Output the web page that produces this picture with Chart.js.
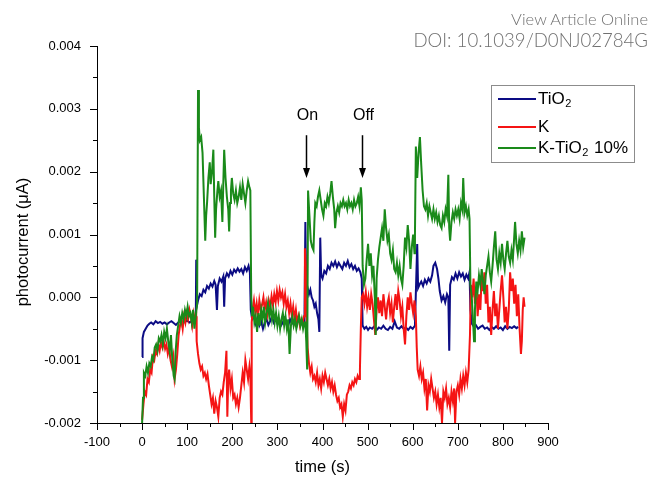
<!DOCTYPE html>
<html>
<head>
<meta charset="utf-8">
<script src="https://cdn.jsdelivr.net/npm/chart.js@4.4.1/dist/chart.umd.min.js"></script>
<style>
  html, body { margin: 0; padding: 0; background: #fff; }
  #wrap { position: relative; width: 650px; height: 477px; }
  .hdr { position: absolute; right: 2px; color: #707070; font-family: Lato, "Open Sans", sans-serif; font-weight: 300; white-space: nowrap; }
  #view { top: 9px; font-size: 16.5px; }
  #doi { top: 29px; font-size: 18.6px; }
</style>
</head>
<body>
<div id="wrap">
  <canvas id="photo" width="650" height="477"></canvas>
  <div class="hdr" id="view">View Article Online</div>
  <div class="hdr" id="doi">DOI: 10.1039/D0NJ02784G</div>
</div>
<script>
// [time (s), photocurrent in units of 0.001 µA]
const tio2 = [
  [0,-0.95],[1,-0.65],[4,-0.55],[8,-0.5],[12,-0.45],[16,-0.42],[20,-0.4],[25,-0.43],[30,-0.38],[35,-0.41],
  [40,-0.39],[45,-0.42],[50,-0.4],[55,-0.43],[60,-0.4],[65,-0.38],[70,-0.41],[75,-0.44],[80,-0.4],[85,-0.38],
  [90,-0.41],[95,-0.39],[100,-0.37],[105,-0.4],[110,-0.38],[115,-0.36],[119,-0.38],[120,0.6],[121,-0.15],[124,-0.05],
  [128,0.05],[132,0.02],[136,0.12],[140,0.08],[144,0.18],[148,0.14],[152,0.22],[156,0.17],[160,0.26],[163,0.2],
  [166,-0.2],[168,0.18],[172,0.3],[176,0.25],[180,0.33],[182,-0.15],[184,0.3],[188,0.38],[192,0.33],[196,0.42],
  [200,0.36],[204,0.44],[208,0.4],[212,0.46],[216,0.41],[220,0.45],[224,0.38],[228,0.48],[232,0.42],[236,0.5],
  [239,0.4],[241,-0.2],[244,-0.35],[248,-0.3],[252,-0.42],[256,-0.33],[260,-0.45],[264,-0.38],[268,-0.5],[272,-0.4],
  [276,-0.35],[280,-0.44],[284,-0.38],[288,-0.3],[292,-0.4],[296,-0.34],[300,-0.42],[304,-0.36],[308,-0.45],[312,-0.4],
  [316,-0.33],[320,-0.38],[324,-0.45],[328,-0.35],[332,-0.42],[336,-0.38],[340,-0.32],[344,-0.4],[348,-0.35],[352,-0.43],
  [356,-0.38],[360,-0.4],[362,1.2],[364,0.1],[367,0.15],[370,0.05],[373,0.12],[376,0.0],[379,-0.05],[382,-0.15],
  [385,-0.1],[388,-0.25],[391,-0.35],[393,-0.55],[395,0.95],[397,0.35],[400,0.3],[404,0.42],[408,0.38],[412,0.5],
  [416,0.45],[420,0.55],[424,0.5],[428,0.57],[432,0.48],[436,0.55],[440,0.5],[444,0.45],[448,0.55],[452,0.5],
  [456,0.58],[460,0.48],[464,0.53],[468,0.45],[472,0.5],[476,0.42],[480,0.46],[484,0.4],[487,0.3],[489,-0.45],
  [493,-0.5],[497,-0.47],[501,-0.52],[505,-0.48],[510,-0.5],[515,-0.46],[520,-0.52],[525,-0.48],[530,-0.5],[535,-0.45],
  [540,-0.5],[545,-0.52],[550,-0.47],[555,-0.5],[560,-0.38],[565,-0.48],[570,-0.5],[575,-0.46],[580,-0.5],[585,-0.48],
  [590,-0.52],[595,-0.47],[600,-0.5],[605,-0.45],[610,0.85],[612,0.15],[615,0.2],[619,0.25],[623,0.18],[627,0.28],
  [631,0.22],[635,0.3],[639,0.25],[643,0.35],[646,0.5],[650,0.55],[654,0.45],[657,0.3],[660,0.1],[664,-0.05],
  [668,0.02],[672,-0.08],[676,0.05],[679,0.0],[681,-0.85],[683,0.2],[687,0.32],[691,0.28],[695,0.38],[699,0.3],
  [703,0.4],[707,0.33],[711,0.38],[715,0.28],[719,0.36],[723,0.3],[726,0.4],[728,-0.2],[731,-0.42],[735,-0.46],
  [740,-0.44],[745,-0.5],[750,-0.47],[755,-0.45],[760,-0.5],[765,-0.48],[770,-0.52],[775,-0.47],[780,-0.5],[785,-0.46],
  [790,-0.5],[795,-0.48],[800,-0.52],[805,-0.46],[810,-0.5],[815,-0.47],[820,-0.49],[825,-0.46],[830,-0.49],[834,-0.47]
];

const kOnly = [
  [0,-1.95],[3,-1.7],[6,-1.5],[9,-1.55],[12,-1.3],[15,-1.35],[18,-1.15],[21,-1.2],[24,-0.95],[27,-1.0],
  [30,-0.85],[33,-0.9],[36,-0.75],[39,-0.85],[42,-0.72],[45,-0.8],[48,-0.7],[51,-0.82],[54,-0.75],[57,-0.9],
  [60,-0.8],[63,-1.0],[66,-1.1],[69,-0.95],[72,-1.3],[75,-1.15],[78,-0.9],[81,-0.6],[84,-0.45],[87,-0.35],
  [90,-0.5],[93,-0.3],[96,-0.4],[99,-0.25],[102,-0.35],[105,-0.2],[108,-0.3],[111,-0.45],[114,-0.25],[117,-0.35],
  [120,-0.3],[121,-0.7],[124,-0.9],[127,-1.05],[130,-1.15],[133,-1.1],[136,-1.25],[139,-1.2],[142,-1.3],[145,-1.22],
  [148,-1.4],[151,-1.55],[154,-1.7],[157,-1.6],[160,-1.85],[163,-1.65],[166,-1.75],[169,-1.9],[172,-1.6],[175,-1.5],
  [178,-1.55],[181,-1.35],[184,-1.2],[187,-0.85],[189,-1.9],[191,-1.3],[193,-1.15],[196,-1.45],[199,-1.3],[202,-1.6],
  [205,-1.55],[208,-1.7],[211,-1.6],[214,-1.75],[217,-1.6],[220,-1.4],[223,-1.2],[226,-1.35],[229,-1.0],[232,-1.15],
  [235,-1.3],[238,-1.1],[240,-1.25],[242,-2.0],[243,-0.4],[245,-0.2],[248,-0.05],[251,-0.25],[254,-0.1],[257,-0.3],
  [260,-0.05],[263,-0.2],[266,-0.12],[269,0.0],[272,-0.2],[275,-0.08],[278,-0.25],[281,-0.05],[284,-0.15],[287,0.02],
  [290,-0.12],[293,0.05],[296,-0.08],[299,0.1],[302,-0.05],[305,0.12],[308,0.0],[311,0.08],[314,-0.1],[317,0.05],
  [320,-0.15],[323,-0.05],[326,-0.25],[329,-0.1],[332,-0.3],[335,-0.15],[338,-0.35],[341,-0.2],[344,-0.4],[347,-0.3],
  [350,-0.45],[353,-0.35],[356,-0.4],[359,-0.3],[361,0.78],[363,0.5],[365,-0.4],[367,-0.8],[370,-1.05],[373,-1.2],
  [376,-1.1],[379,-1.3],[382,-1.25],[385,-1.35],[388,-1.2],[391,-1.4],[394,-1.3],[397,-1.45],[400,-1.25],[403,-1.35],
  [406,-1.2],[409,-1.3],[412,-1.4],[415,-1.3],[418,-1.45],[421,-1.35],[424,-1.5],[427,-1.4],[430,-1.55],[433,-1.65],
  [436,-1.6],[439,-1.75],[442,-1.7],[445,-1.9],[448,-1.7],[451,-1.8],[454,-1.55],[457,-1.5],[460,-1.4],[463,-1.45],
  [466,-1.35],[469,-1.4],[472,-1.3],[475,-1.35],[478,-1.25],[481,-1.3],[483,-1.15],[485,-0.5],[487,0.0],[490,0.05],
  [493,-0.1],[496,0.08],[499,-0.15],[502,0.0],[505,-0.2],[508,0.05],[511,-0.1],[514,-0.35],[517,-0.6],[520,-0.2],
  [523,0.0],[526,-0.25],[529,-0.05],[532,-0.3],[535,0.05],[538,-0.15],[541,-0.35],[544,-0.1],[547,0.0],[550,-0.25],
  [553,-0.1],[556,-0.4],[559,-0.15],[562,0.05],[565,-0.2],[568,0.1],[571,-0.05],[574,-0.3],[577,-0.15],[580,-0.5],
  [583,-0.75],[586,-0.3],[589,0.0],[592,-0.2],[595,0.08],[598,-0.1],[601,-0.25],[604,-0.05],[607,-0.3],[609,-0.8],
  [611,-1.15],[614,-1.25],[617,-1.1],[620,-1.3],[623,-1.2],[626,-1.45],[629,-1.3],[632,-1.8],[635,-1.4],[638,-1.5],
  [641,-1.3],[644,-1.45],[647,-1.6],[650,-1.5],[653,-1.7],[656,-1.55],[659,-1.75],[662,-1.6],[665,-2.0],[668,-1.5],
  [671,-1.6],[674,-1.45],[677,-1.7],[680,-1.6],[683,-1.75],[686,-1.5],[689,-1.65],[692,-1.45],[694,-2.0],[697,-1.5],
  [700,-1.4],[703,-1.55],[706,-1.3],[709,-1.45],[712,-1.25],[715,-1.4],[718,-1.2],[721,-1.35],[724,-1.15],[727,-0.6],
  [729,0.2],[732,0.0],[735,0.3],[738,-0.1],[741,0.15],[744,-0.3],[747,0.05],[750,-0.2],[753,0.35],[756,0.1],
  [759,0.4],[762,-0.1],[765,0.2],[768,-0.4],[771,-0.15],[774,-0.6],[777,-0.2],[780,0.1],[783,-0.3],[786,-0.1],
  [789,-0.5],[792,-0.2],[795,0.1],[798,0.35],[801,0.0],[804,-0.4],[807,-0.15],[810,-0.5],[813,-0.2],[816,0.4],
  [819,0.1],[822,0.3],[825,-0.1],[828,0.2],[831,-0.3],[834,0.05],[837,-0.5],[840,-0.9],[842,-0.7],[844,-0.2],
  [846,0.0],[848,-0.15]
];

const kTio2 = [
  [0,-2.0],[2,-1.6],[4,-1.2],[7,-1.25],[10,-1.1],[13,-1.2],[16,-1.05],[19,-1.1],[22,-0.95],[25,-1.0],
  [28,-0.8],[31,-0.75],[34,-0.85],[37,-0.65],[40,-0.7],[43,-0.6],[46,-0.75],[49,-0.55],[52,-0.65],[55,-0.5],
  [58,-0.7],[61,-0.85],[64,-0.6],[67,-1.0],[70,-1.25],[72,-1.3],[74,-0.9],[77,-0.6],[80,-0.45],[83,-0.3],
  [86,-0.4],[89,-0.25],[92,-0.35],[95,-0.2],[98,-0.3],[101,-0.15],[104,-0.3],[107,-0.25],[110,-0.4],[113,-0.2],
  [116,-0.5],[119,-0.3],[122,-0.1],[124,3.3],[126,2.7],[128,2.5],[131,2.55],[134,2.3],[137,1.6],[140,0.9],
  [142,1.3],[144,1.5],[147,1.9],[150,2.15],[152,1.8],[155,2.0],[158,2.35],[160,1.6],[162,0.95],[164,1.4],
  [167,1.7],[169,1.85],[172,1.6],[175,1.7],[178,1.2],[180,1.8],[182,2.35],[185,1.9],[188,1.6],[191,1.4],
  [193,1.05],[195,1.5],[197,1.7],[199,1.9],[202,1.65],[205,1.55],[208,1.7],[211,1.5],[214,1.6],[217,1.75],
  [220,1.55],[223,1.8],[226,1.65],[229,1.5],[232,1.7],[235,1.85],[238,1.75],[240,1.7],[242,0.0],[244,-0.3],
  [246,-0.15],[249,-0.4],[252,-0.3],[255,-0.55],[258,-0.25],[261,-0.45],[264,-0.2],[267,-0.35],[270,-0.15],[273,-0.4],
  [276,-0.25],[279,-0.1],[282,-0.3],[285,-0.15],[288,-0.35],[291,-0.2],[294,-0.4],[297,-0.25],[300,-0.45],[303,-0.3],
  [306,-0.5],[309,-0.35],[312,-0.25],[315,-0.45],[318,-0.3],[321,-0.5],[324,-0.35],[327,-0.9],[330,-0.45],[333,-0.3],
  [336,-0.45],[339,-0.35],[342,-0.5],[345,-0.4],[348,-0.3],[351,-0.45],[354,-0.35],[357,-0.5],[360,-0.4],[362,-0.4],
  [364,-0.7],[366,-1.15],[368,1.7],[371,1.3],[374,0.9],[377,0.8],[380,0.75],[382,1.2],[384,1.5],[387,1.45],
  [390,1.6],[393,1.7],[396,1.55],[399,1.4],[402,1.3],[405,1.5],[408,1.45],[411,1.6],[414,1.5],[417,1.65],
  [420,1.85],[423,1.6],[426,1.4],[428,1.1],[431,1.35],[434,1.45],[437,1.35],[440,1.5],[443,1.45],[446,1.55],
  [449,1.45],[452,1.5],[455,1.4],[458,1.55],[461,1.45],[464,1.5],[467,1.4],[470,1.55],[473,1.45],[476,1.5],
  [479,1.6],[482,1.45],[485,1.75],[487,1.55],[489,0.5],[492,0.2],[495,0.3],[498,0.6],[501,0.85],[504,0.5],
  [507,0.7],[510,0.35],[513,0.5],[516,0.0],[518,-0.6],[520,0.3],[523,0.6],[526,0.8],[529,0.95],[532,1.1],
  [535,0.9],[538,1.4],[541,1.1],[544,0.9],[547,1.0],[550,0.7],[553,0.6],[556,0.75],[559,0.45],[562,0.4],
  [565,0.55],[568,0.35],[571,0.5],[574,0.3],[577,0.2],[580,0.5],[583,0.95],[586,0.8],[589,1.15],[592,0.9],
  [595,0.45],[598,0.8],[601,1.0],[604,0.7],[605,1.0],[607,2.4],[610,1.9],[613,2.3],[616,2.55],[619,2.1],
  [622,1.7],[625,1.45],[628,1.4],[631,1.5],[634,1.3],[637,1.45],[640,1.35],[643,1.25],[646,1.4],[649,1.25],
  [652,1.35],[655,1.2],[658,1.3],[661,1.15],[664,1.1],[667,1.3],[670,1.2],[673,1.4],[676,1.3],[679,1.95],
  [681,1.1],[683,0.9],[686,1.2],[689,1.35],[692,1.25],[695,1.4],[698,1.3],[701,1.4],[704,1.25],[707,1.5],
  [710,1.4],[712,1.9],[715,1.35],[718,1.45],[721,1.3],[724,1.4],[726,1.25],[728,0.2],[731,0.0],[734,-0.4],
  [736,-0.7],[738,-0.2],[741,0.25],[744,0.1],[747,0.35],[750,0.2],[753,0.45],[756,0.25],[759,0.05],[762,0.35],
  [765,0.5],[768,0.65],[771,0.4],[774,0.25],[777,0.5],[780,0.8],[783,1.05],[786,0.6],[789,0.45],[792,0.7],
  [795,0.55],[798,0.85],[801,0.6],[804,0.45],[807,0.7],[810,0.9],[813,0.65],[816,0.55],[819,0.75],[822,0.6],
  [825,0.95],[827,1.2],[830,0.85],[833,0.7],[836,0.9],[839,0.75],[842,1.05],[845,0.8],[848,0.95]
];

const seriesLabels = ['TiO₂', 'K', 'K-TiO₂ 10%'];
const seriesColors = ['#0c0c84', '#f51414', '#1a8a1a'];
const seriesRows = [tio2, kOnly, kTio2];
const UNIT = 0.001;

// light switching marks: [label, time (s)]
const switchMarks = [['On', 363], ['Off', 488]];

const FONT = '"Liberation Sans", Arial, sans-serif';

function drawSubscripted(ctx, text, x, y, size) {
  const parts = text.split('₂');
  parts.forEach((part, i) => {
    ctx.font = size + 'px ' + FONT;
    ctx.fillText(part, x, y);
    x += ctx.measureText(part).width;
    if (i < parts.length - 1) {
      ctx.font = Math.round(size * 0.65) + 'px ' + FONT;
      ctx.fillText('2', x + 0.5, y + 5);
      x += ctx.measureText('2').width + 1.5;
    }
  });
}

const decorations = {
  id: 'decorations',
  afterDraw(chart) {
    const { ctx, chartArea: area } = chart;
    const xs = chart.scales.x, ys = chart.scales.y;
    ctx.save();
    ctx.strokeStyle = '#000';
    ctx.lineWidth = 1;

    // outward major/minor ticks
    for (let v = -100; v <= 900; v += 50) {
      const px = Math.round(xs.getPixelForValue(v)) + 0.5;
      const len = v % 100 === 0 ? 7 : 4;
      ctx.beginPath();
      ctx.moveTo(px, area.bottom);
      ctx.lineTo(px, area.bottom + len);
      ctx.stroke();
    }
    for (let k = -4; k <= 8; k++) {
      const py = Math.round(ys.getPixelForValue(k * 0.0005)) + 0.5;
      const len = k % 2 === 0 ? 7 : 4;
      ctx.beginPath();
      ctx.moveTo(area.left, py);
      ctx.lineTo(area.left - len, py);
      ctx.stroke();
    }

    // axis titles
    ctx.fillStyle = '#000';
    ctx.textAlign = 'center';
    ctx.textBaseline = 'middle';
    ctx.font = '16.5px ' + FONT;
    ctx.fillText('time (s)', (area.left + area.right) / 2, 467);
    ctx.save();
    ctx.translate(23, 242);
    ctx.rotate(-Math.PI / 2);
    ctx.fillText('photocurrent (\u03bcA)', 0, 0);
    ctx.restore();

    // On / Off arrows
    switchMarks.forEach(([label, t]) => {
      const px = Math.round(xs.getPixelForValue(t)) + 0.5;
      const top = ys.getPixelForValue(0.00258);
      const tip = ys.getPixelForValue(0.0019);
      ctx.font = '16px ' + FONT;
      ctx.fillText(label, px + 1, ys.getPixelForValue(0.0029));
      ctx.lineWidth = 1.5;
      ctx.beginPath();
      ctx.moveTo(px, top);
      ctx.lineTo(px, tip - 8);
      ctx.stroke();
      ctx.beginPath();
      ctx.moveTo(px - 3.5, tip - 10);
      ctx.lineTo(px + 3.5, tip - 10);
      ctx.lineTo(px, tip);
      ctx.closePath();
      ctx.fill();
    });

    // legend box
    ctx.lineWidth = 1;
    ctx.strokeStyle = '#8c8c8c';
    ctx.strokeRect(491.5, 85.5, 143, 77);
    const rowY = [99, 127, 148];
    ctx.textAlign = 'left';
    seriesLabels.forEach((label, i) => {
      ctx.strokeStyle = seriesColors[i];
      ctx.lineWidth = 2;
      ctx.beginPath();
      ctx.moveTo(498, rowY[i]);
      ctx.lineTo(536, rowY[i]);
      ctx.stroke();
      ctx.fillStyle = '#000';
      drawSubscripted(ctx, label, 538, rowY[i], 17);
    });
    ctx.restore();
  }
};

const datasets = seriesLabels.map((label, i) => ({
  label: label,
  data: seriesRows[i].map(([t, v]) => ({ x: t, y: v * UNIT })),
  borderColor: seriesColors[i],
  borderWidth: 2,
  pointRadius: 0,
  tension: 0,
  showLine: true,
  order: 2 - i
}));

const fmt = v => (Math.abs(v) < 1e-9 ? 0 : v).toFixed(3);

new Chart(document.getElementById('photo'), {
  type: 'scatter',
  data: { datasets: datasets },
  options: {
    responsive: false,
    animation: false,
    devicePixelRatio: 1,
    layout: { padding: { top: 46, right: 102, left: 0, bottom: 0 } },
    plugins: { legend: { display: false }, tooltip: { enabled: false } },
    scales: {
      x: {
        type: 'linear',
        min: -100,
        max: 900,
        grid: { display: false, drawTicks: false },
        border: { display: true, color: '#000', width: 1 },
        ticks: { stepSize: 100, padding: 12, color: '#000', font: { family: FONT, size: 13 } },
        afterFit: s => { s.height = 54; }
      },
      y: {
        min: -0.002,
        max: 0.004,
        grid: { display: false, drawTicks: false },
        border: { display: true, color: '#000', width: 1 },
        ticks: { stepSize: 0.001, padding: 16, color: '#000', font: { family: FONT, size: 13 }, callback: fmt },
        afterFit: s => { s.width = 97; }
      }
    }
  },
  plugins: [decorations]
});
</script>
</body>
</html>
